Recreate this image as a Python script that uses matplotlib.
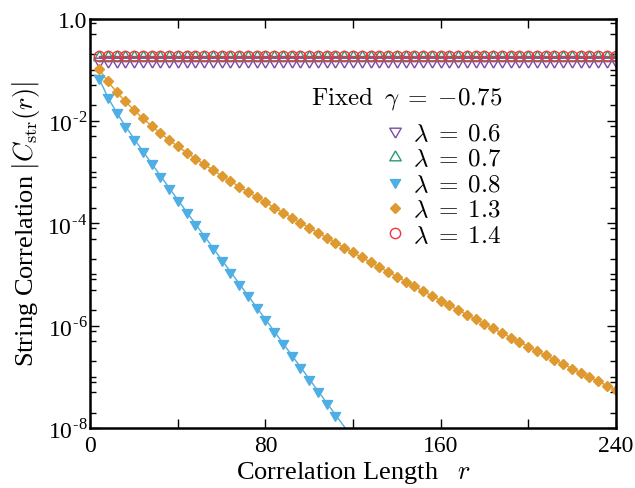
import numpy as np
import matplotlib
matplotlib.use('Agg')
from matplotlib import pyplot as plt
from matplotlib.ticker import FixedLocator, FixedFormatter, LogLocator, NullFormatter

plt.rcParams['font.family'] = ['Liberation Serif', 'DejaVu Serif']
plt.rcParams['mathtext.fontset'] = 'cm'

# correlation length grid (every 4 sites)
r = list(range(4, 244, 4))

# flat (long-range ordered) cases
c_06 = [0.150] * len(r)
c_07 = [0.179] * len(r)
c_14 = [0.183] * len(r)

# lambda = 0.8, log10 |C_str| (r = 4 ... 120)
r_08 = list(range(4, 124, 4))
log_c_08 = [-1.17, -1.54, -1.835, -2.10, -2.35, -2.592, -2.832, -3.07, -3.307, -3.543,
            -3.778, -4.012, -4.246, -4.479, -4.712, -4.945, -5.178, -5.411, -5.644, -5.877,
            -6.11, -6.343, -6.576, -6.809, -7.042, -7.275, -7.508, -7.741, -7.974, -8.207]

# lambda = 1.3, log10 |C_str| (r = 4 ... 240)
log_c_13 = [-0.99, -1.23, -1.435, -1.62, -1.79, -1.95, -2.10, -2.24, -2.375, -2.50,
            -2.62, -2.737, -2.851, -2.962, -3.071, -3.178, -3.283, -3.387, -3.49, -3.592,
            -3.693, -3.793, -3.892, -3.99, -4.088, -4.185, -4.282, -4.378, -4.474, -4.570,
            -4.666, -4.761, -4.856, -4.95, -5.044, -5.138, -5.232, -5.325, -5.418, -5.51,
            -5.602, -5.694, -5.785, -5.875, -5.965, -6.055, -6.144, -6.232, -6.32, -6.408,
            -6.495, -6.581, -6.667, -6.753, -6.838, -6.922, -7.006, -7.090, -7.172, -7.255]

c_08 = 10.0 ** np.array(log_c_08)
c_13 = 10.0 ** np.array(log_c_13)

# triangles with the data point at the centroid
tri_up = [(0, 1), (-0.866, -0.5), (0.866, -0.5), (0, 1)]
tri_dn = [(0, -1), (-0.866, 0.5), (0.866, 0.5), (0, -1)]

purple = '#7B4AA8'
green = '#2E9A6C'
blue = '#4FAEE3'
orange = '#DE9A30'
red = '#EE3540'

fig = plt.figure(figsize=(6.35, 4.89), dpi=100)
ax = fig.add_axes([0.1422, 0.1227, 0.8274, 0.8374])

# lines
ax.plot(r, c_06, color=purple, lw=1.0)
ax.plot(r, c_07, color=green, lw=1.0)
ax.plot(r_08, c_08, color=blue, lw=1.0)
ax.plot(r, c_13, color=orange, lw=1.0)
ax.plot(r, c_14, color=red, lw=1.0)

# markers
ax.plot(r, c_06, ls='none', marker=tri_dn, ms=9.5, mfc='none', mec=purple, mew=1.0,
        label=r'$\lambda\;=\;0.6$')
ax.plot(r, c_07, ls='none', marker=tri_up, ms=9.5, mfc='none', mec=green, mew=1.0,
        label=r'$\lambda\;=\;0.7$')
ax.plot(r_08[:-2], c_08[:-2], ls='none', marker=tri_dn, ms=8.5, color=blue, mec=blue,
        label=r'$\lambda\;=\;0.8$')
ax.plot(r, c_13, ls='none', marker='D', ms=5.0, color=orange, mec=orange,
        label=r'$\lambda\;=\;1.3$')
ax.plot(r, c_14, ls='none', marker='o', ms=7.4, mfc='none', mec=red, mew=1.0,
        label=r'$\lambda\;=\;1.4$')

ax.set_yscale('log')
ax.set_xlim(0, 240)
ax.set_ylim(1e-8, 1.0)

ax.xaxis.set_major_locator(FixedLocator([0, 40, 80, 120, 160, 200, 240]))
ax.xaxis.set_major_formatter(FixedFormatter(['0', '', '80', '', '160', '', '240']))

ax.yaxis.set_major_locator(FixedLocator([1e-8, 1e-6, 1e-4, 1e-2, 1.0]))
ax.yaxis.set_major_formatter(FixedFormatter(['10$^{\\mathregular{\u2010}\\mathregular{8}}$',
                                             '10$^{\\mathregular{\u2010}\\mathregular{6}}$',
                                             '10$^{\\mathregular{\u2010}\\mathregular{4}}$',
                                             '10$^{\\mathregular{\u2010}\\mathregular{2}}$',
                                             '1.0']))
ax.yaxis.set_minor_locator(LogLocator(base=10, subs=(1.0, 2.0, 5.0, 8.0), numticks=20))
ax.yaxis.set_minor_formatter(NullFormatter())

ax.tick_params(which='both', direction='in', top=True, right=True, width=1.0, labelsize=17)
ax.tick_params(which='major', length=6.5)
ax.tick_params(which='minor', length=4.3)
ax.tick_params(axis='y', pad=2)
ax.tick_params(axis='x', pad=5)
for s in ax.spines.values():
    s.set_linewidth(1.8)

ax.set_xlabel('Correlation Length   $r$', fontsize=19, labelpad=2)
ax.set_ylabel(r'String Correlation $\left|C_{\mathrm{str}}(r)\right|$', fontsize=19, labelpad=4)

ax.text(0.7836, 0.808, r'$\mathrm{Fixed}\;\;\gamma\;=\;{-0.75}$', transform=ax.transAxes,
        ha='right', va='center', fontsize=18)
leg = ax.legend(loc='upper right', bbox_to_anchor=(0.7836, 0.746), frameon=False,
                fontsize=18, borderpad=0, borderaxespad=0, handlelength=0.8,
                handletextpad=0.35, labelspacing=0.12, numpoints=1)

fig.savefig('out.png', dpi=100)
